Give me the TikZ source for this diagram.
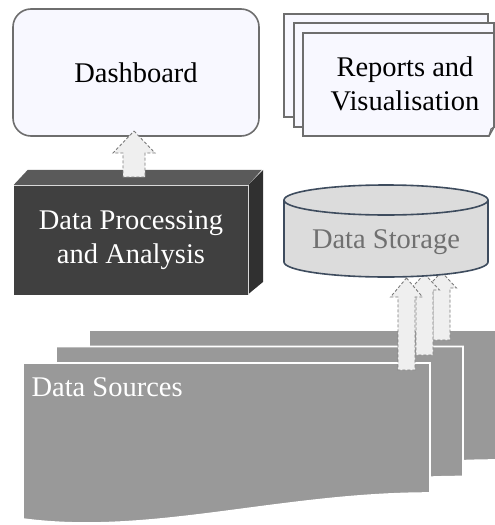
\documentclass[tikz,border=0pt]{standalone}
\usepackage{fontspec}
\setmainfont{Liberation Serif}
\usetikzlibrary{calc}

\definecolor{paleblue}{HTML}{F8F8FF}
\definecolor{frameGray}{HTML}{6E6E6E}
\definecolor{boxFront}{HTML}{404040}
\definecolor{boxTop}{HTML}{5A5A5A}
\definecolor{boxSide}{HTML}{303030}
\definecolor{storeFill}{HTML}{DCDCDC}
\definecolor{storeLine}{HTML}{3E4C5E}
\definecolor{storeText}{HTML}{707070}
\definecolor{srcFill}{HTML}{999999}
\definecolor{arrowFill}{HTML}{EFEFEF}
\definecolor{arrowLine}{HTML}{7A7A7A}

\tikzset{
  bigtext/.style={font=\fontsize{28.5}{34.5}\selectfont, align=center},
  panel/.style={fill=paleblue, draw=frameGray, line width=1.6pt},
  srcpage/.style={fill=srcFill, draw=white, line width=1.6pt},
  flowarrow/.style={fill=arrowFill, draw=arrowLine, line width=0.9pt,
                    dash pattern=on 3pt off 2pt, line join=miter},
}

% upward block arrow: centre x, tip y, head base y, bottom y, half shaft, half head
\newcommand\blockup[6]{%
  \filldraw[flowarrow] (#1,#2) -- ({#1+#6},#3) -- ({#1+#5},#3) -- ({#1+#5},#4)
    -- ({#1-#5},#4) -- ({#1-#5},#3) -- ({#1-#6},#3) -- cycle;}

% one sheet of the data-source stack
\newcommand\sourcesheet{%
  \filldraw[srcpage] (23,363) -- (430,363) -- (430,493)
    .. controls (280,493) and (150,536) .. (23,519) -- cycle;}

\begin{document}
\begin{tikzpicture}[x=1pt, y=-1pt]
\useasboundingbox (0,0) rectangle (495,525);
\clip (0,0) rectangle (495,525);

% ---- data sources: stacked sheets ----
\begin{scope}[xshift=66pt, yshift=33pt]\sourcesheet\end{scope}
\begin{scope}[xshift=33pt, yshift=16.5pt]\sourcesheet\end{scope}
\sourcesheet
\node[bigtext, text=white, anchor=base west] (srclabel) at (28,396) {Data Sources};

% ---- flows from the sources up into storage ----
\blockup{441.5}{272}{288}{340}{8.5}{15}
\blockup{424.5}{274}{290}{355}{8.5}{15}
\blockup{406.5}{278}{297}{370}{8.5}{16}

% ---- data storage cylinder ----
\fill[storeFill] (284,200) -- (284,262)
  .. controls (284,270.3) and (329.7,277) .. (386,277)
  .. controls (442.3,277) and (488,270.3) .. (488,262) -- (488,200) -- cycle;
\draw[storeLine, line width=1.6pt] (284,200) -- (284,262)
  .. controls (284,270.3) and (329.7,277) .. (386,277)
  .. controls (442.3,277) and (488,270.3) .. (488,262) -- (488,200);
\filldraw[fill=storeFill, draw=storeLine, line width=1.6pt]
  (386,200) ellipse [x radius=102pt, y radius=15pt];
\node[bigtext, text=storeText, anchor=base] (store) at (386,248) {Data Storage};

% ---- reports stack ----
\filldraw[panel] (284,14) rectangle (488,117);
\filldraw[panel] (294,23) rectangle (494,127);
\filldraw[panel] (303,33) -- (494,33) -- (494,127) -- (489,136) -- (303,136) -- cycle;
\draw[frameGray, line width=1.2pt] (489,136) -- (491,129) -- (494,127);
\node[bigtext] (reports) at (405,84) {Reports and\\Visualisation};

% ---- dashboard ----
\node[panel, rounded corners=18pt, minimum width=246pt, minimum height=127pt,
      bigtext] (dash) at (136,72.5) {Dashboard};

% ---- processing block ----
\node[fill=boxFront, minimum width=234pt, minimum height=110pt, inner sep=0pt,
      bigtext, text=white] (proc) at (131,240) {Data Processing\\and Analysis};
\fill[boxTop] (proc.north west) -- ++(14,-15) -- ++(234,0) -- (proc.north east) -- cycle;
\fill[boxSide] (proc.north east) -- ++(15,-15) -- ++(0,112) -- ($(proc.south east)+(0,-1)$) -- cycle;
\draw[white!70!gray, line width=0.6pt] (proc.north west) -- (proc.north east) -- (proc.south east);

% ---- flow from processing up to the dashboard ----
\blockup{134}{131}{153}{177}{11}{21}
\end{tikzpicture}
\end{document}
